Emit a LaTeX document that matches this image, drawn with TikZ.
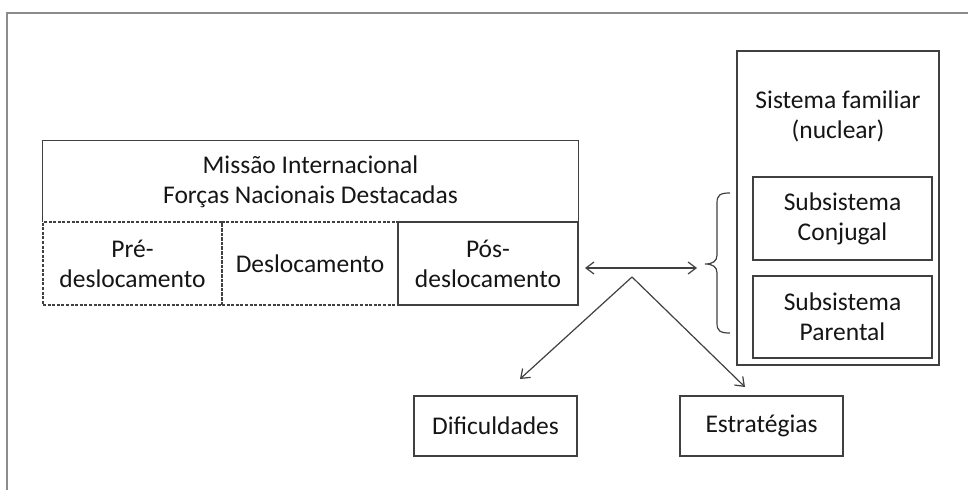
\documentclass[tikz,border=0pt]{standalone}
\usepackage{fontspec}
\setmainfont{Carlito}
\usetikzlibrary{arrows.meta}
\definecolor{frameg}{HTML}{8C8C8C}
\definecolor{lineg}{HTML}{404040}
\definecolor{txt}{HTML}{151515}
\begin{document}
\begin{tikzpicture}[x=1pt,y=-1pt,
  every node/.style={font=\fontsize{25.5}{30}\selectfont, text=txt, align=center, inner sep=0pt},
  box/.style={draw=lineg, line width=1.2pt, rectangle},
  dbox/.style={draw=lineg, line width=1.2pt, rectangle, dash pattern=on 3pt off 1.6pt},
  conn/.style={draw=lineg, line width=1.2pt},
  tip/.style={-{Straight Barb[length=8pt,width=12pt]}},
  tips/.style={{Straight Barb[length=8pt,width=12pt]}-{Straight Barb[length=8pt,width=12pt]}}]
\useasboundingbox (0,0) rectangle (968,490);
% outer frame
\draw[frameg, line width=2pt] (7,490) -- (7,13) -- (968,13);
% left block
\node (top) [minimum width=535pt, minimum height=81pt] at (310.5,181.5) {Missão Internacional\\Forças Nacionais Destacadas};
\node (pre) [dbox, minimum width=179pt, minimum height=83pt] at (132.5,263.5) {Pré-\\deslocamento};
\node (desl) [dbox, minimum width=176pt, minimum height=83pt] at (310,263.5) {Deslocamento};
\node (pos) [box, minimum width=180pt, minimum height=83pt] at (488,263.5) {Pós-\\deslocamento};
\draw[conn] (top.south west) -- (top.north west) -- (top.north east) -- (top.south east);
% right block
\node (fam) [box, minimum width=202pt, minimum height=314pt] at (838,208) {};
\node (famlab) at (838,116) {Sistema familiar\\(nuclear)};
\node (conj) [box, minimum width=179pt, minimum height=83pt] at (842.5,218.5) {Subsistema\\Conjugal};
\node (par) [box, minimum width=179pt, minimum height=82pt] at (842.5,317) {Subsistema\\Parental};
% brace
\coordinate (btip) at (705,264);
\draw[conn] (730,193) .. controls (720,193) and (717,195) .. (717,203) -- (717,255)
  .. controls (717,261) and (713,264) .. (btip)
  .. controls (713,264) and (717,267) .. (717,273) -- (717,323)
  .. controls (717,331) and (720,333) .. (730,333);
% bottom boxes
\node (dif) [box, minimum width=163pt, minimum height=60pt] at (495.5,426) {Dificuldades};
\node (est) [box, minimum width=163pt, minimum height=60pt] at (761.5,426) {Estratégias};
% connectors
\coordinate (arL) at (585,268);
\coordinate (arR) at (697,268);
\coordinate (apex) at (632,277);
\coordinate (difend) at (520,379);
\coordinate (estend) at (745,387);
\draw[conn, tips] (arL) -- (arR);
\draw[conn, tip] (apex) -- (difend);
\draw[conn, tip] (apex) -- (estend);
\end{tikzpicture}
\end{document}
